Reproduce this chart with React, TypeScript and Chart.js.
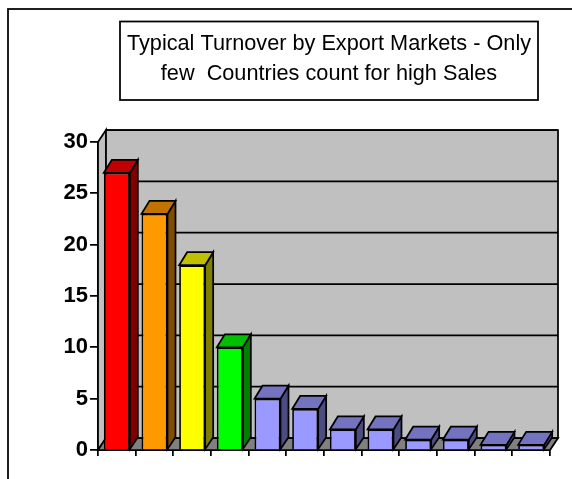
import React, { useEffect, useRef } from "react";
import { Chart, registerables } from "chart.js";

Chart.register(...registerables);

const categories = ["1", "2", "3", "4", "5", "6", "7", "8", "9", "10", "11", "12"];
const turnover = [27, 23, 18, 10, 5, 4, 2, 2, 1, 1, 0.5, 0.5];
const frontColors = ["#ff0000", "#ff9900", "#ffff00", "#00ff00", "#9999ff", "#9999ff", "#9999ff", "#9999ff", "#9999ff", "#9999ff", "#9999ff", "#9999ff"];
const topColors = ["#c00000", "#c07300", "#c0c000", "#00c000", "#7373c0", "#7373c0", "#7373c0", "#7373c0", "#7373c0", "#7373c0", "#7373c0", "#7373c0"];
const sideColors = ["#800000", "#804c00", "#808000", "#008000", "#4c4c80", "#4c4c80", "#4c4c80", "#4c4c80", "#4c4c80", "#4c4c80", "#4c4c80", "#4c4c80"];
const titleLines = ["Typical Turnover by Export Markets - Only", "few  Countries count for high Sales"];
const depthX = 8;
const depthY = -12;
const barDepthY = -13;
const lw = 1.75;

function poly(ctx: CanvasRenderingContext2D, pts: number[][], fill?: string) {
  ctx.beginPath();
  pts.forEach((p, i) => (i ? ctx.lineTo(p[0], p[1]) : ctx.moveTo(p[0], p[1])));
  ctx.closePath();
  if (fill) {
    ctx.fillStyle = fill;
    ctx.fill();
  }
  ctx.stroke();
}

const framePlugin = {
  id: "frame3d",
  afterLayout(chart: any) {
    chart.titleBlock.left = 120;
    chart.titleBlock.right = 538;
  },
  beforeDraw(chart: any) {
    const ctx: CanvasRenderingContext2D = chart.ctx;
    ctx.save();
    ctx.fillStyle = "#ffffff";
    ctx.fillRect(0, 0, chart.width, chart.height);
    ctx.strokeStyle = "#000000";
    ctx.lineWidth = lw;
    ctx.strokeRect(8, 9, 800, 800);
    ctx.strokeRect(120, 21.5, 418, 78.5);
    ctx.restore();
  },
  beforeDatasetsDraw(chart: any) {
    const ctx: CanvasRenderingContext2D = chart.ctx;
    const { left, right, top, bottom } = chart.chartArea;
    const y = chart.scales.y;
    ctx.save();
    ctx.strokeStyle = "#000000";
    ctx.lineWidth = lw;
    ctx.lineJoin = "miter";
    // side wall, floor, back wall
    poly(ctx, [[left, top], [left + depthX, top + depthY], [left + depthX, bottom + depthY], [left, bottom]], "#c0c0c0");
    poly(ctx, [[left, bottom], [left + depthX, bottom + depthY], [right + depthX, bottom + depthY], [right, bottom]], "#808080");
    poly(ctx, [[left + depthX, top + depthY], [right + depthX, top + depthY], [right + depthX, bottom + depthY], [left + depthX, bottom + depthY]], "#c0c0c0");
    // gridlines on the back wall
    y.ticks.forEach((t: any) => {
      const py = y.getPixelForValue(t.value) + depthY;
      ctx.beginPath();
      ctx.moveTo(left + depthX, py);
      ctx.lineTo(right + depthX, py);
      ctx.stroke();
    });
    // bar depth faces
    const meta = chart.getDatasetMeta(0);
    meta.data.forEach((bar: any, i: number) => {
      const x0 = bar.x - bar.width / 2;
      const x1 = bar.x + bar.width / 2;
      poly(ctx, [[x1, bar.y], [x1 + depthX, bar.y + barDepthY], [x1 + depthX, bar.base + depthY], [x1, bar.base]], sideColors[i]);
      poly(ctx, [[x0, bar.y], [x0 + depthX, bar.y + barDepthY], [x1 + depthX, bar.y + barDepthY], [x1, bar.y]], topColors[i]);
    });
    ctx.restore();
  },
};

export default function App() {
  const ref = useRef<HTMLCanvasElement>(null);
  useEffect(() => {
    const chart = new Chart(ref.current!, {
      type: "bar",
      data: {
        labels: categories,
        datasets: [
          {
            data: turnover,
            backgroundColor: frontColors,
            borderColor: "#000000",
            borderWidth: lw,
            categoryPercentage: 1,
            barPercentage: 0.69,
          },
        ],
      },
      options: {
        animation: false,
        responsive: false,
        devicePixelRatio: 1,
        layout: { padding: { left: 52, right: 22, top: 0, bottom: 0 } },
        plugins: {
          legend: { display: false },
          tooltip: { enabled: false },
          title: {
            display: true,
            text: titleLines,
            color: "#000000",
            font: { family: "'Liberation Sans'", size: 21.7, weight: "normal", lineHeight: 30 / 21.7 },
            padding: { top: 29, bottom: 53 },
          },
        },
        scales: {
          x: {
            grid: { drawOnChartArea: false, color: "#000000", lineWidth: lw, tickLength: 6, offset: true },
            border: { color: "#000000", width: lw },
            ticks: { display: false },
            afterFit: (s: any) => {
              s.height = 29;
            },
          },
          y: {
            min: 0,
            max: 30,
            grid: { drawOnChartArea: false, color: "#000000", lineWidth: lw, tickLength: 8 },
            border: { color: "#000000", width: lw },
            ticks: {
              stepSize: 5,
              color: "#000000",
              padding: 2,
              font: { family: "'Liberation Sans'", size: 22, weight: "bold" },
            },
            afterFit: (s: any) => {
              s.width = 46;
            },
          },
        },
      },
      plugins: [framePlugin],
    } as any);
    return () => chart.destroy();
  }, []);
  return <canvas ref={ref} width={572} height={479} style={{ position: "fixed", left: 0, top: 0 }} />;
}
